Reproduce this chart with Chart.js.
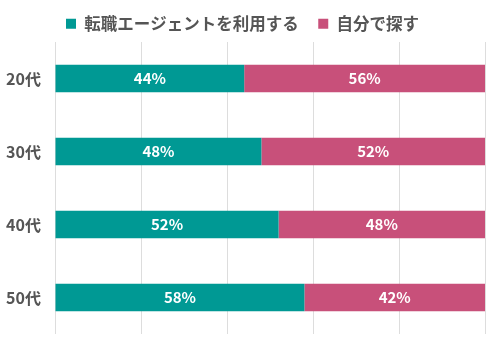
<!DOCTYPE html>
<html>
<head>
<meta charset="utf-8">
<script src="https://cdn.jsdelivr.net/npm/chart.js@4/dist/chart.umd.min.js"></script>
<style>
  html, body { margin: 0; padding: 0; background: #fff; }
  canvas { display: block; }
</style>
</head>
<body>
<canvas id="grafico" width="492" height="338"></canvas>
<script>
const categorias = ['20代', '30代', '40代', '50代'];
const agente = [44, 48, 52, 58];
const proprio = [56, 52, 48, 42];
const nomes = ['転職エージェントを利用する', '自分で探す'];

const fonte = "'Noto Sans CJK JP', 'Noto Sans', sans-serif";

// Escreve o valor no centro de cada barra
const rotulos = {
  id: 'rotulos',
  afterDatasetsDraw(chart) {
    const ctx = chart.ctx;
    ctx.save();
    ctx.fillStyle = '#ffffff';
    ctx.font = 'bold 15px ' + fonte;
    ctx.textAlign = 'center';
    ctx.textBaseline = 'middle';
    chart.data.datasets.forEach((ds, i) => {
      chart.getDatasetMeta(i).data.forEach((bar, j) => {
        const cx = (bar.x + bar.base) / 2;
        ctx.fillText(ds.data[j] + '%', cx, bar.y);
      });
    });
    ctx.restore();
  }
};

const ctx = document.getElementById('grafico').getContext('2d');
const grafico = new Chart(ctx, {
  type: 'bar',
  data: {
    labels: categorias,
    datasets: [{
      label: nomes[0],
      data: agente,
      backgroundColor: '#009994',
      borderWidth: 0,
      barPercentage: 0.38,
      categoryPercentage: 1
    }, {
      label: nomes[1],
      data: proprio,
      backgroundColor: '#c8507a',
      borderWidth: 0,
      barPercentage: 0.38,
      categoryPercentage: 1
    }]
  },
  options: {
    indexAxis: 'y',
    responsive: false,
    animation: false,
    layout: { padding: { left: 0, right: 7, top: -4, bottom: 0 } },
    scales: {
      x: {
        stacked: true,
        min: 0,
        max: 100,
        ticks: { display: false, stepSize: 20 },
        grid: { color: '#dddddd', drawTicks: false },
        border: { display: false },
        afterFit(s) { s.height = 0; }
      },
      y: {
        stacked: true,
        grid: { display: false, drawTicks: false },
        border: { display: false },
        // largura fixa do eixo e margens da área do gráfico
        afterFit(s) {
          s.width = 55;
          s.paddingTop = 42;
          s.paddingBottom = 4;
        },
        ticks: {
          color: '#555555',
          padding: 14,
          font: { family: fonte, size: 16, weight: 'bold' }
        }
      }
    },
    plugins: {
      legend: {
        position: 'top',
        labels: {
          color: '#555555',
          boxWidth: 10,
          boxHeight: 10,
          padding: 3,
          font: { family: fonte, size: 16.5, weight: 'bold' },
          // espaço extra entre os itens da legenda
          generateLabels(chart) {
            const itens = Chart.defaults.plugins.legend.labels.generateLabels(chart);
            itens.forEach((it, i) => { if (i < itens.length - 1) it.text += '\u3000'; });
            return itens;
          }
        }
      },
      tooltip: { enabled: false }
    }
  },
  plugins: [rotulos]
});
</script>
</body>
</html>
